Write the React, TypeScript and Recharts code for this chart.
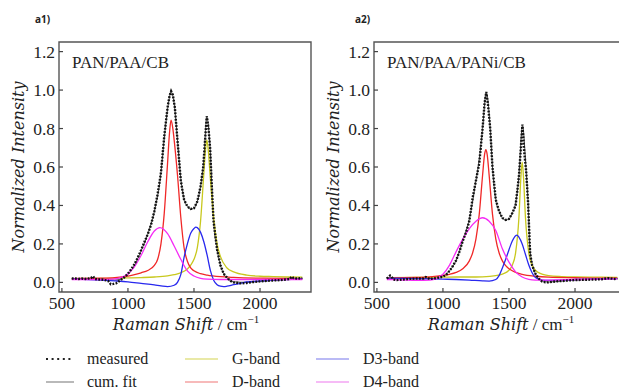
import { LineChart, Line, XAxis, YAxis, ReferenceArea } from "recharts";

type Pt = [number, number];

// axis setup shared by both panels
const xDomain: [number, number] = [478, 2386];
const yDomain: [number, number] = [-0.05, 1.25];
const xTicks = [500, 1000, 1500, 2000];
const yTicks = [0, 0.2, 0.4, 0.6, 0.8, 1.0, 1.2];

// a1) PAN/PAA/CB
const a1Measured: Pt[] = [
  [575, 0.02], [600, 0.02], [625, 0.018], [650, 0.02], [675, 0.018], [700, 0.02], [720, 0.022], [735, 0.032],
  [750, 0.018], [775, 0.015], [800, 0.015], [825, 0.012], [850, 0.008], [870, -0.01], [890, -0.008], [910, -0.005],
  [930, 0.005], [950, 0.015], [975, 0.028], [1000, 0.045], [1025, 0.068], [1050, 0.095], [1075, 0.13], [1100, 0.168],
  [1125, 0.21], [1150, 0.25], [1175, 0.3], [1200, 0.37], [1225, 0.46], [1250, 0.57], [1275, 0.76], [1300, 0.91],
  [1315, 0.97], [1327, 0.994], [1340, 0.975], [1355, 0.91], [1375, 0.74], [1400, 0.53], [1425, 0.43], [1450, 0.395],
  [1475, 0.382], [1500, 0.386], [1525, 0.42], [1550, 0.5], [1570, 0.6], [1585, 0.75], [1597, 0.864], [1610, 0.8],
  [1622, 0.7], [1635, 0.5], [1648, 0.32], [1675, 0.17], [1700, 0.09], [1725, 0.045], [1750, 0.025], [1775, 0.008],
  [1800, 0.0], [1850, -0.005], [1900, -0.003], [1950, 0.002], [2000, 0.005], [2050, 0.008], [2100, 0.01], [2150, 0.012],
  [2200, 0.015], [2225, 0.018], [2240, 0.03], [2255, 0.022], [2280, 0.02], [2320, 0.022],
];
const a1Fit: Pt[] = [
  [575, 0.02], [700, 0.02], [800, 0.017], [900, 0.012], [950, 0.018], [1000, 0.04], [1050, 0.09], [1100, 0.165],
  [1150, 0.25], [1200, 0.37], [1250, 0.57], [1275, 0.75], [1300, 0.9], [1327, 0.99], [1350, 0.93], [1375, 0.74],
  [1400, 0.54], [1425, 0.435], [1450, 0.395], [1475, 0.382], [1500, 0.387], [1525, 0.42], [1550, 0.5], [1575, 0.64],
  [1597, 0.86], [1620, 0.72], [1648, 0.32], [1675, 0.175], [1700, 0.09], [1725, 0.045], [1750, 0.022], [1800, 0.003],
  [1900, 0.0], [2000, 0.005], [2100, 0.01], [2200, 0.015], [2320, 0.02],
];
const a1G: Pt[] = [
  [575, 0.02], [800, 0.021], [1000, 0.023], [1100, 0.025], [1200, 0.028], [1300, 0.034], [1350, 0.04], [1400, 0.05],
  [1450, 0.07], [1475, 0.09], [1500, 0.12], [1525, 0.18], [1550, 0.32], [1575, 0.57], [1590, 0.71], [1597, 0.74],
  [1605, 0.71], [1625, 0.53], [1650, 0.33], [1675, 0.2], [1700, 0.135], [1750, 0.075], [1800, 0.055], [1900, 0.038],
  [2000, 0.032], [2100, 0.03], [2200, 0.028], [2320, 0.027],
];
const a1D: Pt[] = [
  [575, 0.02], [700, 0.021], [800, 0.022], [900, 0.025], [1000, 0.033], [1050, 0.04], [1100, 0.05], [1150, 0.062],
  [1200, 0.088], [1225, 0.12], [1250, 0.2], [1275, 0.36], [1300, 0.62], [1315, 0.78], [1326, 0.843], [1340, 0.8],
  [1350, 0.74], [1375, 0.56], [1400, 0.34], [1425, 0.18], [1450, 0.11], [1475, 0.075], [1500, 0.06], [1550, 0.045],
  [1600, 0.038], [1700, 0.03], [1800, 0.026], [2000, 0.022], [2320, 0.02],
];
const a1D3: Pt[] = [
  [575, 0.018], [700, 0.015], [800, 0.012], [900, 0.008], [1000, 0.003], [1100, -0.005], [1200, -0.013], [1250, -0.018],
  [1300, -0.022], [1350, -0.015], [1375, 0.0], [1400, 0.04], [1425, 0.13], [1450, 0.2], [1475, 0.255], [1500, 0.28],
  [1515, 0.287], [1525, 0.285], [1550, 0.26], [1575, 0.21], [1600, 0.14], [1625, 0.06], [1650, 0.01], [1675, -0.012],
  [1700, -0.02], [1725, -0.022], [1750, -0.02], [1800, -0.012], [1850, -0.005], [1900, 0.002], [2000, 0.008],
  [2100, 0.012], [2200, 0.015], [2320, 0.018],
];
const a1D4: Pt[] = [
  [575, 0.015], [700, 0.015], [800, 0.015], [900, 0.018], [950, 0.026], [1000, 0.045], [1050, 0.082], [1100, 0.141],
  [1150, 0.211], [1200, 0.267], [1242, 0.285], [1300, 0.253], [1350, 0.189], [1400, 0.12], [1450, 0.06], [1500, 0.033],
  [1550, 0.021], [1600, 0.017], [1700, 0.015], [2000, 0.015], [2320, 0.015],
];

// a2) PAN/PAA/PANi/CB
const a2Measured: Pt[] = [
  [575, 0.02], [600, 0.035], [610, 0.03], [625, 0.015], [650, 0.012], [700, 0.015], [750, 0.018], [800, 0.02],
  [850, 0.02], [870, 0.028], [900, 0.018], [950, 0.022], [1000, 0.03], [1025, 0.04], [1050, 0.06], [1075, 0.085],
  [1100, 0.115], [1125, 0.16], [1150, 0.215], [1175, 0.26], [1200, 0.32], [1225, 0.44], [1250, 0.53], [1275, 0.62],
  [1300, 0.8], [1315, 0.93], [1328, 0.99], [1340, 0.93], [1358, 0.8], [1375, 0.6], [1400, 0.43], [1425, 0.37],
  [1450, 0.335], [1475, 0.325], [1500, 0.33], [1525, 0.36], [1550, 0.4], [1575, 0.55], [1590, 0.7], [1602, 0.82],
  [1615, 0.68], [1630, 0.58], [1645, 0.41], [1660, 0.15], [1675, 0.09], [1700, 0.045], [1725, 0.02], [1750, 0.005],
  [1775, 0.0], [1800, 0.0], [1850, 0.005], [1900, 0.007], [1950, 0.01], [2000, 0.012], [2100, 0.014], [2200, 0.016],
  [2250, 0.022], [2300, 0.018], [2320, 0.02],
];
const a2Fit: Pt[] = [
  [575, 0.022], [700, 0.018], [800, 0.018], [900, 0.02], [1000, 0.032], [1050, 0.06], [1100, 0.115], [1150, 0.215],
  [1200, 0.33], [1250, 0.53], [1275, 0.64], [1300, 0.8], [1328, 0.985], [1358, 0.8], [1375, 0.6], [1400, 0.43],
  [1425, 0.37], [1450, 0.335], [1475, 0.325], [1500, 0.33], [1525, 0.36], [1550, 0.41], [1575, 0.55], [1602, 0.815],
  [1630, 0.58], [1645, 0.41], [1660, 0.16], [1700, 0.045], [1750, 0.008], [1800, 0.002], [1900, 0.007], [2000, 0.012],
  [2200, 0.016], [2320, 0.02],
];
const a2G: Pt[] = [
  [575, 0.025], [800, 0.026], [1000, 0.027], [1100, 0.028], [1200, 0.028], [1300, 0.029], [1400, 0.035], [1450, 0.043],
  [1500, 0.063], [1525, 0.089], [1550, 0.153], [1575, 0.335], [1590, 0.545], [1600, 0.625], [1610, 0.545], [1625, 0.335],
  [1650, 0.153], [1675, 0.089], [1700, 0.063], [1750, 0.043], [1800, 0.035], [1900, 0.03], [2000, 0.028], [2200, 0.027],
  [2320, 0.026],
];
const a2D: Pt[] = [
  [575, 0.023], [700, 0.024], [800, 0.026], [900, 0.029], [1000, 0.036], [1050, 0.042], [1100, 0.052], [1150, 0.071],
  [1200, 0.112], [1225, 0.154], [1250, 0.226], [1275, 0.355], [1300, 0.556], [1315, 0.664], [1325, 0.69], [1335, 0.664],
  [1350, 0.556], [1375, 0.355], [1400, 0.226], [1425, 0.154], [1450, 0.112], [1475, 0.087], [1500, 0.071], [1550, 0.052],
  [1600, 0.042], [1700, 0.032], [1800, 0.027], [2000, 0.024], [2200, 0.022], [2320, 0.022],
];
const a2D3: Pt[] = [
  [575, 0.022], [800, 0.02], [1000, 0.017], [1100, 0.015], [1200, 0.012], [1300, 0.008], [1350, 0.007], [1400, 0.015],
  [1425, 0.035], [1450, 0.075], [1475, 0.12], [1500, 0.17], [1525, 0.215], [1550, 0.243], [1560, 0.246], [1575, 0.235],
  [1600, 0.2], [1625, 0.145], [1650, 0.09], [1675, 0.05], [1700, 0.025], [1750, 0.012], [1800, 0.01], [1900, 0.012],
  [2000, 0.015], [2200, 0.018], [2320, 0.02],
];
const a2D4: Pt[] = [
  [575, 0.015], [700, 0.012], [800, 0.01], [900, 0.012], [950, 0.02], [1000, 0.042], [1050, 0.09], [1100, 0.16],
  [1150, 0.225], [1200, 0.28], [1250, 0.318], [1300, 0.336], [1350, 0.318], [1400, 0.27], [1450, 0.175], [1500, 0.105],
  [1550, 0.055], [1600, 0.028], [1650, 0.016], [1700, 0.012], [1800, 0.012], [2000, 0.015], [2320, 0.018],
];

// legend columns: handle start/end and text start, in px
const legendCols = [
  { x1: 46, x2: 74, tx: 87 },
  { x1: 185, x2: 218, tx: 232 },
  { x1: 316, x2: 349, tx: 363 },
];
const legendItems = [
  { name: "measured", color: "#222", dash: "2 3.6", col: 0, row: 0 },
  { name: "cum. fit", color: "#a8a8a8", dash: undefined, col: 0, row: 1 },
  { name: "G-band", color: "#e2e28a", dash: undefined, col: 1, row: 0 },
  { name: "D-band", color: "#f5a3a3", dash: undefined, col: 1, row: 1 },
  { name: "D3-band", color: "#a3a3f2", dash: undefined, col: 2, row: 0 },
  { name: "D4-band", color: "#f3a5f3", dash: undefined, col: 2, row: 1 },
];

const SERIF = "Liberation Serif, Times New Roman, serif";
const MATH = "DejaVu Serif, serif";

const toRows = (pts: Pt[]) => pts.map(([x, y]) => ({ x, y }));

const XTick = (props: any) => {
  const { x, y, payload } = props;
  return (
    <g>
      <line x1={x} x2={x} y1={y} y2={y - 4} stroke="#444" strokeWidth={1.2} />
      <text x={x} y={y + 17} textAnchor="middle" fontFamily={SERIF} fontSize={17.5} fill="#222">
        {payload.value}
      </text>
    </g>
  );
};

const YTick = (props: any) => {
  const { x, y, payload } = props;
  return (
    <g>
      <line x1={x} x2={x + 4} y1={y} y2={y} stroke="#444" strokeWidth={1.2} />
      <text x={x - 4} y={y + 6} textAnchor="end" fontFamily={SERIF} fontSize={17.5} fill="#222">
        {Number(payload.value).toFixed(1)}
      </text>
    </g>
  );
};

type PanelProps = {
  left: number;
  measured: Pt[];
  fit: Pt[];
  g: Pt[];
  d: Pt[];
  d3: Pt[];
  d4: Pt[];
};

function Panel({ left, measured, fit, g, d, d3, d4 }: PanelProps) {
  const bands = [
    { key: "fit", pts: fit, color: "#444", w: 1 },
    { key: "g", pts: g, color: "#c8c81e", w: 1.3 },
    { key: "d", pts: d, color: "#f02828", w: 1.3 },
    { key: "d3", pts: d3, color: "#2828ee", w: 1.3 },
    { key: "d4", pts: d4, color: "#f52cf5", w: 1.3 },
  ];
  return (
    <div style={{ position: "absolute", left, top: 0 }}>
      <LineChart width={330} height={340} margin={{ top: 42, right: 19, bottom: 0, left: 0 }}>
        <XAxis
          dataKey="x"
          type="number"
          domain={xDomain}
          ticks={xTicks}
          interval={0}
          allowDataOverflow
          axisLine={false}
          tickLine={false}
          tickSize={0}
          tickMargin={0}
          height={48}
          tick={<XTick />}
        />
        <YAxis
          type="number"
          domain={yDomain}
          ticks={yTicks}
          interval={0}
          allowDataOverflow
          axisLine={false}
          tickLine={false}
          tickSize={0}
          tickMargin={0}
          width={59}
          tick={<YTick />}
        />
        <ReferenceArea
          x1={xDomain[0]}
          x2={xDomain[1]}
          y1={yDomain[0]}
          y2={yDomain[1]}
          fill="none"
          stroke="#555"
          strokeWidth={1.4}
        />
        {bands.map((b) => (
          <Line
            key={b.key}
            data={toRows(b.pts)}
            dataKey="y"
            type="monotone"
            stroke={b.color}
            strokeWidth={b.w}
            dot={false}
            isAnimationActive={false}
          />
        ))}
        <Line
          data={toRows(measured)}
          dataKey="y"
          type="linear"
          stroke="#111"
          strokeWidth={2.4}
          strokeDasharray="1.8 1.4"
          dot={false}
          isAnimationActive={false}
        />
      </LineChart>
    </div>
  );
}

// axis titles, panel tags and legend drawn as text on top of the charts
function Overlay() {
  const panels = [
    { dx: 0, tagX: 35, tag: "a1)", name: "PAN/PAA/CB" },
    { dx: 315, tagX: 355, tag: "a2)", name: "PAN/PAA/PANi/CB" },
  ];
  return (
    <svg width={619} height={389} style={{ position: "absolute", left: 0, top: 0, pointerEvents: "none" }}>
      {panels.map((p) => (
        <g key={p.tag}>
          <text x={p.tagX} y={23} fontFamily="Open Sans, sans-serif" fontWeight="bold" fontSize={10} fill="#222">
            {p.tag}
          </text>
          <text x={72 + p.dx} y={68} fontFamily={SERIF} fontSize={17} fill="#222">
            {p.name}
          </text>
          <text transform={`translate(${24 + p.dx},167) rotate(-90)`} textAnchor="middle" fontFamily={MATH} fontStyle="italic" fontSize={16} fill="#222">
            Normalized Intensity
          </text>
          <text x={186 + p.dx} y={330} textAnchor="middle" fill="#222">
            <tspan fontFamily={MATH} fontStyle="italic" fontSize={16}>Raman Shift</tspan>
            <tspan fontFamily={SERIF} fontSize={17}> / cm</tspan>
            <tspan fontFamily={SERIF} fontSize={11} dy={-7}>−1</tspan>
          </text>
        </g>
      ))}
      {legendItems.map((it) => {
        const col = legendCols[it.col];
        const cy = it.row === 0 ? 359 : 382;
        return (
          <g key={it.name}>
            <line
              x1={col.x1}
              x2={col.x2}
              y1={cy}
              y2={cy}
              stroke={it.color}
              strokeWidth={it.dash ? 2 : 1.6}
              strokeDasharray={it.dash}
            />
            <text x={col.tx} y={it.row === 0 ? 364 : 386.5} fontFamily={SERIF} fontSize={16} fill="#222">
              {it.name}
            </text>
          </g>
        );
      })}
    </svg>
  );
}

export default function App() {
  return (
    <div style={{ position: "fixed", left: 0, top: 0, width: 619, height: 389, overflow: "hidden", background: "#fff" }}>
      <Panel left={0} measured={a1Measured} fit={a1Fit} g={a1G} d={a1D} d3={a1D3} d4={a1D4} />
      <Panel left={315} measured={a2Measured} fit={a2Fit} g={a2G} d={a2D} d3={a2D3} d4={a2D4} />
      <Overlay />
    </div>
  );
}
